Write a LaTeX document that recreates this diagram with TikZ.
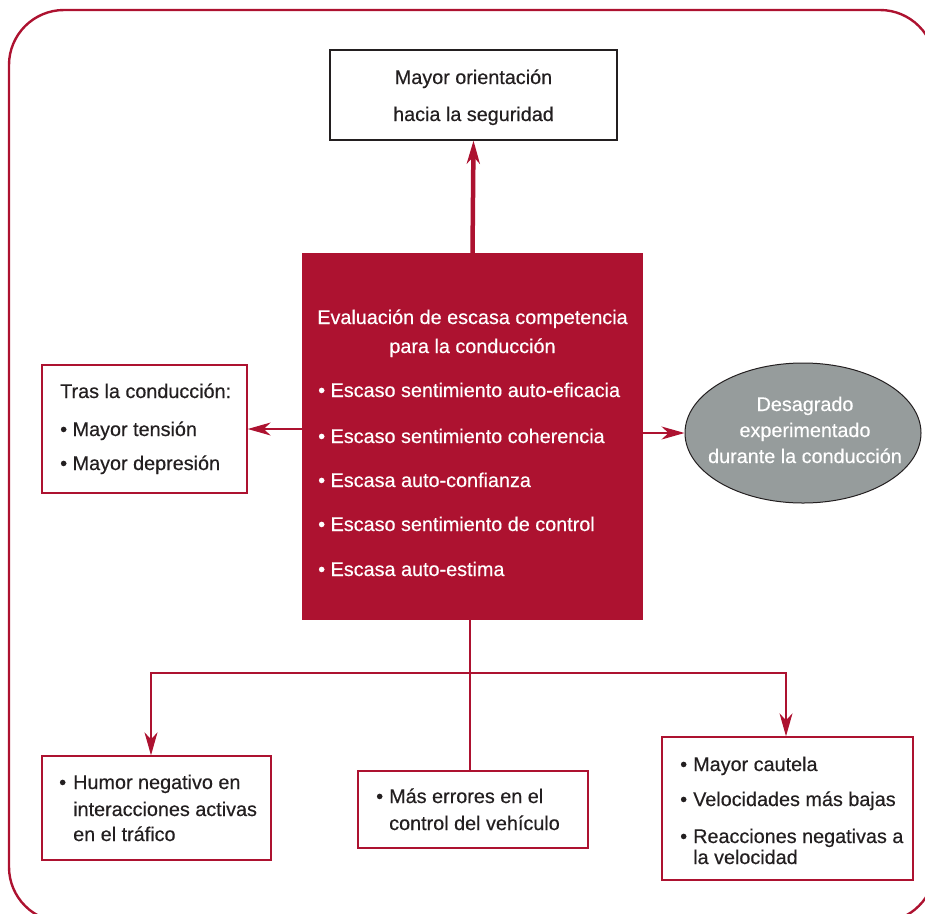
\documentclass[tikz,border=0pt]{standalone}
\usepackage{fontspec}
\setmainfont{Liberation Sans}[FakeBold=0.4]
\usetikzlibrary{arrows.meta,shapes.geometric}
\definecolor{dred}{HTML}{AD1230}
\definecolor{egray}{HTML}{969C9C}
\definecolor{tx}{HTML}{231F20}
\begin{document}
\begin{tikzpicture}[x=1pt,y=-1pt,
  txt/.style={inner sep=0pt, anchor=base west, text=tx, font=\fontsize{19.8}{24}\selectfont},
  ctxt/.style={txt, anchor=base},
  wtxt/.style={txt, text=white},
  wctxt/.style={ctxt, text=white},
  redbox/.style={draw=dred, line width=1.4pt, fill=white, inner sep=0pt, rectangle},
  arr/.style={draw=dred, line width=1.3pt, -{Stealth[length=23pt,width=13pt,inset=7pt]}},
]
\useasboundingbox (0,0) rectangle (925,913);
\begin{scope}
  \clip (0,0) rectangle (925,913);
  \draw[dred, line width=2.4pt, rounded corners=55pt] (9,10) rectangle (935,922);
\end{scope}

% boxes
\node[rectangle, draw=tx, line width=1.2pt, fill=white, inner sep=0pt,
      minimum width=287pt, minimum height=90pt] (top) at (473.5,95) {};
\node[rectangle, fill=dred, inner sep=0pt,
      minimum width=341pt, minimum height=367pt] (eval) at (472.5,436.5) {};
\node[redbox, minimum width=205pt, minimum height=128pt] (lbx) at (144.5,429) {};
\node[ellipse, draw=tx, line width=1pt, fill=egray, inner sep=0pt,
      minimum width=236pt, minimum height=140pt] (ell) at (803,433) {};
\node[redbox, minimum width=229pt, minimum height=104pt] (lb) at (156.5,808) {};
\node[redbox, minimum width=230pt, minimum height=77pt] (mb) at (473,809.5) {};
\node[redbox, minimum width=251pt, minimum height=143pt] (rb) at (787.5,808.5) {};

% top box text
\node[ctxt] (t1) at (473.5,84) {Mayor orientación};
\node[ctxt] (t2) at (473.5,121) {hacia la seguridad};

% red box text
\node[wctxt] (e1) at (472.5,324) {Evaluación de escasa competencia};
\node[wctxt] (e2) at (472.5,353) {para la conducción};
\node[wtxt] (e3) at (318,397) {• Escaso sentimiento auto-eficacia};
\node[wtxt] (e4) at (318,443) {• Escaso sentimiento coherencia};
\node[wtxt] (e5) at (318,487) {• Escasa auto-confianza};
\node[wtxt] (e6) at (318,531) {• Escaso sentimiento de control};
\node[wtxt] (e7) at (318,576) {• Escasa auto-estima};

% left box text
\node[txt] (l1) at (60,398) {Tras la conducción:};
\node[txt] (l2) at (60,436) {• Mayor tensión};
\node[txt] (l3) at (60,470) {• Mayor depresión};

% ellipse text
\node[wctxt] (d1) at (805,411) {Desagrado};
\node[wctxt] (d2) at (805,437) {experimentado};
\node[wctxt] (d3) at (805,463) {durante la conducción};

% bottom left
\node[txt] (b1) at (59,789) {•};
\node[txt] (b2) at (73,789) {Humor negativo en};
\node[txt] (b3) at (73,816) {interacciones activas};
\node[txt] (b4) at (73,841) {en el tráfico};

% bottom middle
\node[txt] (m1) at (376,803) {•};
\node[txt] (m2) at (389,803) {Más errores en el};
\node[txt] (m3) at (389,830) {control del vehículo};

% bottom right
\node[txt] (r1) at (680,771) {•};
\node[txt] (r2) at (693,771) {Mayor cautela};
\node[txt] (r3) at (680,806) {•};
\node[txt] (r4) at (693,806) {Velocidades más bajas};
\node[txt] (r5) at (680,843) {•};
\node[txt] (r6) at (693,843) {Reacciones negativas a};
\node[txt] (r7) at (693,864) {la velocidad};

% connectors
\draw[arr, line width=4.5pt] (eval.north) -- (top.south);
\draw[arr] (eval.west |- lbx.east) -- (lbx.east);
\draw[arr] (eval.east |- ell.west) -- (ell.west);
\coordinate (j) at (470,673);
\draw[dred, line width=1.3pt] (eval.south -| j) -- (mb.north -| j);
\draw[arr] (j) -| ([xshift=-5.5pt]lb.north);
\draw[arr] (j) -| ([xshift=-1.5pt]rb.north);
\end{tikzpicture}
\end{document}
